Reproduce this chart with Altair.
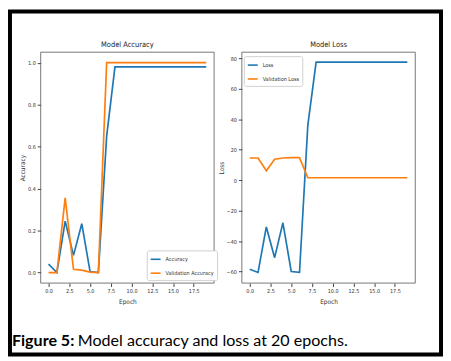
import altair as alt
import pandas as pd

epochs = list(range(20))
accuracy = [0.04, 0.0, 0.245, 0.082, 0.233, 0.005, 0.0, 0.65] + [0.98] * 12
val_accuracy = [0.0, 0.0, 0.356, 0.016, 0.012, 0.002, 0.0, 1.0] + [1.0] * 12
loss = [-58.5, -60.6, -30.7, -50.9, -28.0, -60.0, -60.6, 36.0] + [77.6] * 12
val_loss = [14.6, 14.6, 6.2, 13.8, 14.6, 14.8, 14.8, 1.6] + [1.6] * 12

acc_ticks = [0.0, 0.2, 0.4, 0.6, 0.8, 1.0]
loss_ticks = [-60, -40, -20, 0, 20, 40, 60, 80]
epoch_ticks = [0.0, 2.5, 5.0, 7.5, 10.0, 12.5, 15.0, 17.5]

acc_series = ["Accuracy", "Validation Accuracy"]
loss_series = ["Loss", "Validation Loss"]
colors = ["#1f77b4", "#ff7f0e"]

acc_df = pd.DataFrame({
    "Epoch": epochs * 2,
    "value": accuracy + val_accuracy,
    "series": [acc_series[0]] * 20 + [acc_series[1]] * 20,
})
loss_df = pd.DataFrame({
    "Epoch": epochs * 2,
    "value": loss + val_loss,
    "series": [loss_series[0]] * 20 + [loss_series[1]] * 20,
})

FONT = "DejaVu Sans Condensed, DejaVu Sans, sans-serif"
W, H = 435, 346
XDOM = [-0.95, 19.95]
ACC_DOM = [-0.05, 1.05]
LOSS_DOM = [-67.6, 84.1]
Y_RANGE = [274, 41]


def x_axis():
    return alt.Axis(orient="bottom", values=epoch_ticks, format=".1f", offset=-(H - Y_RANGE[0]),
                    tickSize=3.5, labelPadding=2, labelFontSize=5.5, labelFont=FONT,
                    title="Epoch", titleFont=FONT, titleFontSize=6.5, titleFontWeight="normal",
                    titlePadding=5, domain=False, grid=False, labelColor="#333",
                    titleColor="#333", tickColor="#444", labelFlush=False)


def panel(df, series, ydom, yticks, yfmt, title, xr, legend_x, legend_y):
    xs = alt.Scale(domain=XDOM, range=xr, nice=False, zero=False)
    ys = alt.Scale(domain=ydom, range=Y_RANGE, nice=False, zero=False)

    def y_axis():
        return alt.Axis(orient="left", values=yticks, format=yfmt, offset=-xr[0], tickSize=3.5,
                        labelPadding=2, labelFontSize=5.5, labelFont=FONT,
                        title=title[1], titleFont=FONT, titleFontSize=6.5,
                        titleFontWeight="normal", titlePadding=2, domain=False, grid=False,
                        labelColor="#333", titleColor="#333", tickColor="#444")

    lines = alt.Chart(df).mark_line(strokeWidth=1.7).encode(
        x=alt.X("Epoch:Q", scale=xs, axis=x_axis()),
        y=alt.Y("value:Q", scale=ys, axis=y_axis()),
        color=alt.Color("series:N", scale=alt.Scale(domain=series, range=colors),
                        title=None,
                        legend=alt.Legend(orient="none", legendX=legend_x, legendY=legend_y,
                                          symbolType="stroke", symbolSize=100,
                                          symbolStrokeWidth=1.6, labelFontSize=5.5,
                                          labelFont=FONT, labelColor="#333", rowPadding=4,
                                          padding=3, strokeColor="#d0d0d0", cornerRadius=2,
                                          fillColor="white", labelOffset=4)),
    )
    frame = alt.Chart(alt.Data(values=[{}])).mark_rect(
        fillOpacity=0, stroke="#555", strokeWidth=0.8
    ).encode(
        x=alt.X(datum=XDOM[0], scale=xs, axis=x_axis()),
        x2=alt.datum(XDOM[1]),
        y=alt.Y(datum=ydom[0], scale=ys, axis=y_axis()),
        y2=alt.datum(ydom[1]),
    )
    ttl = alt.Chart(alt.Data(values=[{}])).mark_text(
        text=title[0], font=FONT, fontSize=7.5, color="#222", baseline="alphabetic",
        align="center", dy=-5.5
    ).encode(
        x=alt.X(datum=(XDOM[0] + XDOM[1]) / 2, scale=xs, axis=x_axis()),
        y=alt.Y(datum=ydom[1], scale=ys, axis=y_axis()),
    )
    return alt.layer(lines, frame, ttl)


left = panel(acc_df, acc_series, ACC_DOM, acc_ticks, ".1f",
             ("Model Accuracy", "Accuracy"), [31, 206], 138, 241)
right = panel(loss_df, loss_series, LOSS_DOM, loss_ticks, "d",
              ("Model Loss", "Loss"), [234, 409], 236, 45)

cap_data = alt.Data(values=[{}])
cap1 = alt.Chart(cap_data).mark_text(
    text="Figure 5:", font="Lato", fontWeight="bold", fontSize=16.2, color="black",
    align="left", baseline="alphabetic"
).encode(x=alt.value(2), y=alt.value(337))
cap2 = alt.Chart(cap_data).mark_text(
    text="Model accuracy and loss at 20 epochs.", font="Lato", fontSize=16.2, color="black",
    align="left", baseline="alphabetic"
).encode(x=alt.value(68.5), y=alt.value(337))

chart = alt.layer(left, right, cap1, cap2).resolve_scale(
    x="independent", y="independent", color="independent"
).properties(
    width=W, height=H, padding=2, autosize=alt.AutoSizeParams(type="none"),
    background="white"
).configure_view(stroke="black", strokeWidth=4)

chart.save("out.html", embed_options={"renderer": "svg", "actions": False})
